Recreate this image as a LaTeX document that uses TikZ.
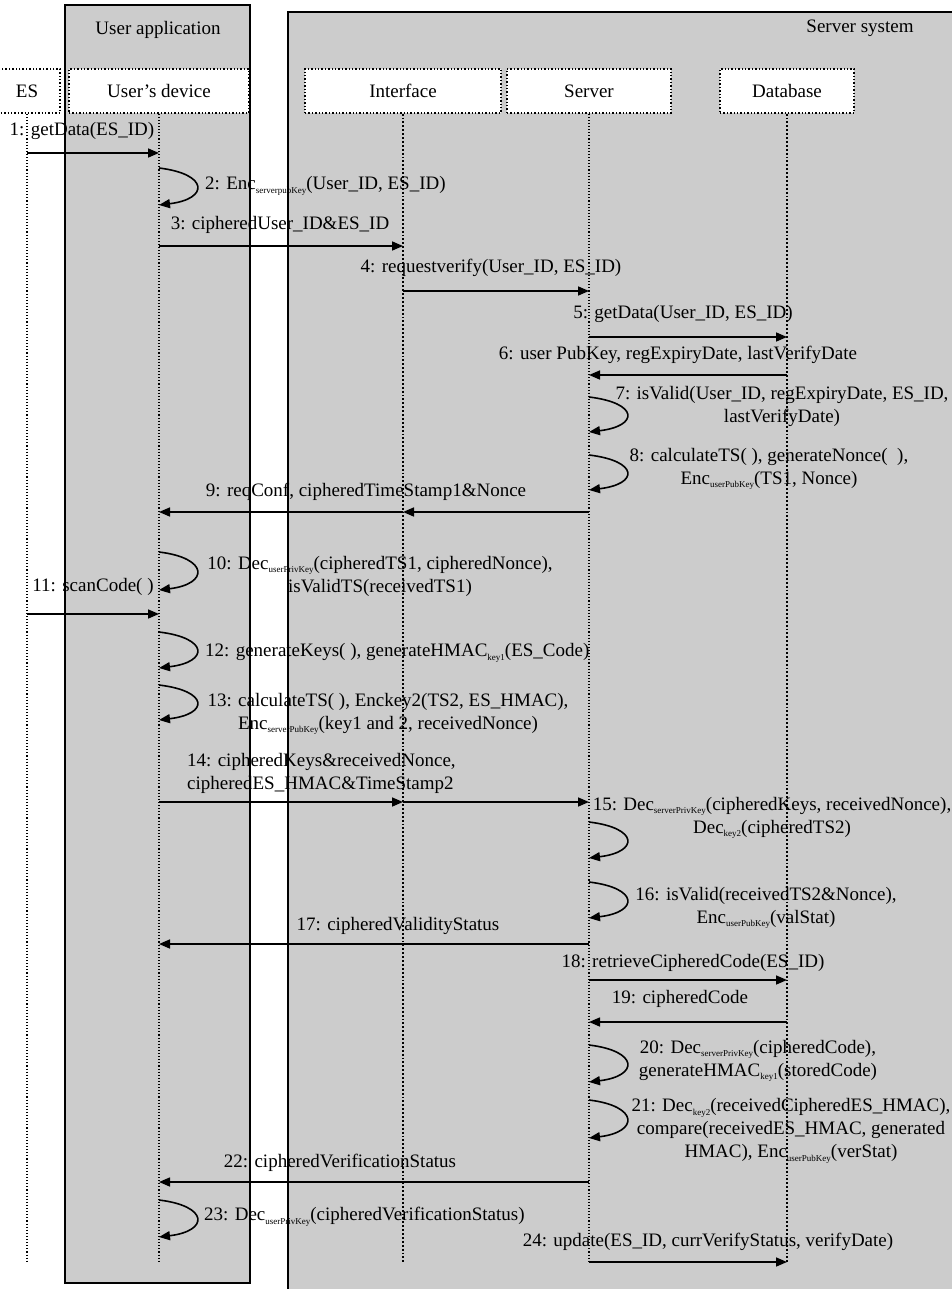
\documentclass[tikz,border=0pt]{standalone}
\usepackage{fontspec}
\setmainfont{Liberation Serif}
\usepackage{tikz}
\usetikzlibrary{arrows.meta,positioning,calc}
\definecolor{panelgray}{HTML}{CCCCCC}
\newcommand{\sbs}[1]{\raisebox{-3.5pt}{\fontsize{9}{9}\selectfont #1}}

\begin{document}
\begin{tikzpicture}[x=1pt,y=-1pt,
  font=\fontsize{19}{23}\selectfont,
  panel/.style={draw,fill=panelgray,line width=1.5pt},
  head/.style={draw,dotted,line width=1.4pt,fill=white,minimum height=44pt,inner sep=0pt},
  life/.style={dotted,line width=1.1pt},
  msg/.style={line width=1.6pt,-{Triangle[length=11pt,width=9pt]}},
  lbl/.style={inner sep=0pt,align=center}]
  \useasboundingbox (0,0) rectangle (952,1289);
  \clip (0,0) rectangle (952,1289);
  \draw[panel] (65,5) rectangle (250,1283);
  \draw[panel] (288,12) rectangle (965,1300);
  \node[lbl] (appname) at (158,30) {User application};
  \node[lbl] (sysname) at (860,28) {Server system};
  \node[head,minimum width=66pt] (es) at (27,91) {ES};
  \node[head,minimum width=180pt] (dev) at (159,91) {User’s device};
  \node[head,minimum width=196pt] (intf) at (403,91) {Interface};
  \node[head,minimum width=164pt] (srv) at (589,91) {Server};
  \node[head,minimum width=134pt] (db) at (787,91) {Database};
  \foreach \n/\w in {es/1.1pt,dev/1.1pt,intf/1.9pt,srv/1.1pt,db/1.9pt}
    \draw[life,line width=\w] (\n.south) -- (\n.south |- 0,1263);
  \foreach \a/\b/\y in {es/dev/153, dev/intf/246, intf/srv/291, srv/db/337, db/srv/375,
      srv/intf/512, intf/dev/512, es/dev/614, dev/intf/802, intf/srv/802, srv/dev/944,
      srv/db/980, db/srv/1022, srv/dev/1182, srv/db/1262}
    \draw[msg] (\a |- 0,\y) -- (\b |- 0,\y);
  \foreach \n/\p/\q in {dev/168/205, srv/397/432, srv/455/490, dev/552/590, dev/632/668,
      dev/685/720, srv/822/858, srv/882/918, srv/1045/1082, srv/1100/1138, dev/1200/1237}
    \draw[msg] (\n |- 0,\p) .. controls +(50,6) and +(50,-6) .. (\n |- 0,\q);
  \node[lbl] (m1) at (82,131) {1: getData(ES\_ID)};
  \node[lbl,anchor=west] (m2) at (205,186) {2: Enc\sbs{serverpubKey}(User\_ID, ES\_ID)};
  \node[lbl] (m3) at (280,225) {3: cipheredUser\_ID\&ES\_ID};
  \node[lbl] (m4) at (491,268) {4: requestverify(User\_ID, ES\_ID)};
  \node[lbl] (m5) at (683,314) {5: getData(User\_ID, ES\_ID)};
  \node[lbl] (m6) at (678,355) {6: user PubKey, regExpiryDate, lastVerifyDate};
  \node[lbl] (m7) at (782,406) {7: isValid(User\_ID, regExpiryDate, ES\_ID,\\ lastVerifyDate)};
  \node[lbl] (m8) at (769,469) {8: calculateTS( ), generateNonce(\ \ ),\\ Enc\sbs{userPubKey}(TS1, Nonce)};
  \node[lbl] (m9) at (366,492) {9: reqConf, cipheredTimeStamp1\&Nonce};
  \node[lbl] (m10) at (380,576) {10: Dec\sbs{userPrivKey}(cipheredTS1, cipheredNonce),\\ isValidTS(receivedTS1)};
  \node[lbl] (m11) at (93,587) {11: scanCode( )};
  \node[lbl,anchor=west] (m12) at (205,653) {12: generateKeys( ), generateHMAC\sbs{key1}(ES\_Code)};
  \node[lbl] (m13) at (388,714) {13: calculateTS( ), Enckey2(TS2, ES\_HMAC),\\ Enc\sbs{serverPubKey}(key1 and 2, receivedNonce)};
  \node[lbl,align=left,anchor=west] (m14) at (187,773) {14: cipheredKeys\&receivedNonce,\\ cipheredES\_HMAC\&TimeStamp2};
  \node[lbl] (m15) at (772,818) {15: Dec\sbs{serverPrivKey}(cipheredKeys, receivedNonce),\\ Dec\sbs{key2}(cipheredTS2)};
  \node[lbl] (m16) at (766,908) {16: isValid(receivedTS2\&Nonce),\\ Enc\sbs{userPubKey}(valStat)};
  \node[lbl] (m17) at (398,926) {17: cipheredValidityStatus};
  \node[lbl] (m18) at (693,963) {18: retrieveCipheredCode(ES\_ID)};
  \node[lbl] (m19) at (680,999) {19: cipheredCode};
  \node[lbl] (m20) at (758,1061) {20: Dec\sbs{serverPrivKey}(cipheredCode),\\ generateHMAC\sbs{key1}(storedCode)};
  \node[lbl] (m21) at (791,1131) {21: Dec\sbs{key2}(receivedCipheredES\_HMAC),\\ compare(receivedES\_HMAC, generated\\ HMAC), Enc\sbs{userPubKey}(verStat)};
  \node[lbl] (m22) at (340,1163) {22: cipheredVerificationStatus};
  \node[lbl,anchor=west] (m23) at (204,1217) {23: Dec\sbs{userPrivKey}(cipheredVerificationStatus)};
  \node[lbl] (m24) at (708,1242) {24: update(ES\_ID, currVerifyStatus, verifyDate)};
\end{tikzpicture}
\end{document}
